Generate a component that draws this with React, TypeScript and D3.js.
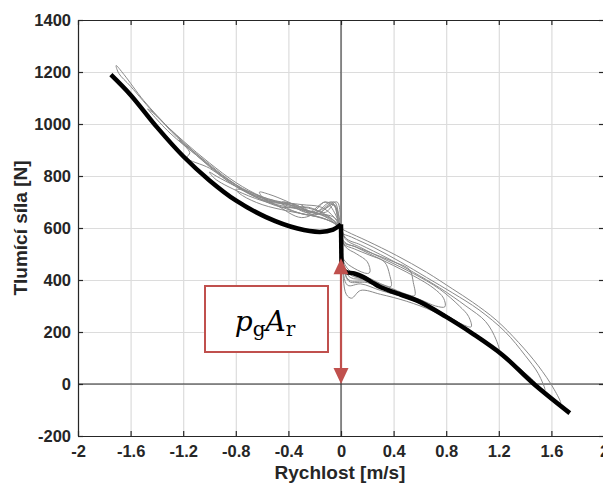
import * as d3 from 'd3';
import { useEffect, useRef } from 'react';

// axis ticks
const xTicks = [-2, -1.6, -1.2, -0.8, -0.4, 0, 0.4, 0.8, 1.2, 1.6, 2];
const xTickLabels = ['-2', '-1.6', '-1.2', '-0.8', '-0.4', '0', '0.4', '0.8', '1.2', '1.6', '2'];
const yTicks = [-200, 0, 200, 400, 600, 800, 1000, 1200, 1400];
const yTickLabels = ['-200', '0', '200', '400', '600', '800', '1000', '1200', '1400'];

// model (thick black), split at the jump at v = 0
const modelNeg: [number, number][] = [
  [-1.75, 1190], [-1.6, 1112], [-1.4, 988], [-1.2, 876], [-1.0, 783], [-0.8, 706],
  [-0.57, 642], [-0.33, 598], [-0.16, 585], [-0.06, 594], [0, 614],
];
const modelJump: [number, number][] = [[0, 614], [0.004, 445]];
const modelPos: [number, number][] = [
  [0.004, 445], [0.04, 431], [0.1, 425], [0.167, 412], [0.24, 390], [0.294, 374], [0.395, 354],
  [0.6, 316], [0.8, 258], [1.0, 194], [1.23, 111], [1.46, 3], [1.74, -112],
];

// measured loops (thin grey)
const loop1: [number, number][] = [
  [0, 605], [0.01, 480], [0.04, 345], [0.08, 330], [0.15, 360], [0.3, 345], [0.5, 318], [0.7, 280],
  [0.9, 225], [1.1, 160], [1.3, 80], [1.45, 10], [1.58, -45], [1.67, -75], [1.62, -20], [1.5, 70],
  [1.35, 160], [1.18, 246], [1.0, 315], [0.85, 365], [0.65, 430], [0.42, 495], [0.2, 550], [0.05, 585],
  [0, 600], [-0.05, 640], [-0.15, 680], [-0.3, 690], [-0.5, 705], [-0.7, 740], [-0.9, 800], [-1.1, 885],
  [-1.3, 980], [-1.5, 1090], [-1.65, 1190], [-1.71, 1225], [-1.69, 1195], [-1.6, 1145], [-1.4, 1030],
  [-1.2, 935], [-1.0, 850], [-0.8, 775], [-0.6, 720], [-0.4, 690], [-0.2, 660], [-0.05, 640], [0, 605],
];
const loop2: [number, number][] = [
  [0, 600], [0.01, 470], [0.05, 380], [0.15, 385], [0.3, 360], [0.5, 330], [0.7, 285], [0.9, 230],
  [1.1, 165], [1.3, 85], [1.45, 20], [1.55, -25], [1.5, 40], [1.4, 110], [1.25, 200], [1.05, 285],
  [0.85, 350], [0.65, 410], [0.45, 470], [0.25, 525], [0.08, 565], [0, 585], [-0.05, 690], [-0.12, 660],
  [-0.25, 680], [-0.45, 680], [-0.65, 720], [-0.85, 785], [-1.05, 865], [-1.25, 950], [-1.4, 1030],
  [-1.47, 1058], [-1.44, 1040], [-1.3, 965], [-1.1, 880], [-0.9, 800], [-0.7, 735], [-0.5, 700],
  [-0.3, 670], [-0.1, 645], [0, 600],
];
const loop3: [number, number][] = [
  [0, 600], [0.02, 460], [0.06, 395], [0.2, 390], [0.4, 350], [0.6, 318], [0.8, 265], [1.0, 200],
  [1.12, 155], [1.2, 130], [1.18, 170], [1.1, 240], [0.95, 300], [0.75, 370], [0.55, 430], [0.35, 485],
  [0.15, 535], [0.03, 565], [-0.03, 700], [-0.1, 680], [-0.2, 650], [-0.35, 690], [-0.55, 700],
  [-0.75, 745], [-0.95, 815], [-1.1, 880], [-1.23, 937], [-1.15, 890], [-1.17, 870], [-1.0, 830],
  [-0.8, 760], [-0.6, 715], [-0.4, 690], [-0.2, 670], [-0.08, 640], [0, 600],
];
const loop4: [number, number][] = [
  [0, 600], [0.02, 450], [0.06, 400], [0.2, 395], [0.4, 355], [0.6, 320], [0.8, 265], [0.92, 230],
  [0.99, 220], [0.97, 260], [0.9, 300], [0.75, 365], [0.55, 425], [0.35, 475], [0.15, 525], [0.03, 560],
  [-0.04, 680], [-0.12, 700], [-0.25, 660], [-0.4, 690], [-0.6, 710], [-0.8, 760], [-0.95, 800],
  [-1.0, 815], [-0.96, 790], [-0.8, 745], [-0.6, 705], [-0.4, 680], [-0.2, 660], [-0.06, 630], [0, 600],
];
const loop5: [number, number][] = [
  [0, 600], [0.02, 455], [0.07, 410], [0.2, 400], [0.4, 360], [0.6, 325], [0.72, 300], [0.79, 297],
  [0.78, 330], [0.7, 370], [0.5, 430], [0.3, 480], [0.12, 525], [0.02, 550], [-0.05, 700], [-0.15, 670],
  [-0.3, 640], [-0.5, 690], [-0.7, 740], [-0.8, 748], [-0.75, 725], [-0.6, 690], [-0.4, 665],
  [-0.2, 645], [-0.05, 620], [0, 600],
];
const loop6: [number, number][] = [
  [0, 590], [0.02, 460], [0.07, 420], [0.2, 400], [0.35, 375], [0.5, 345], [0.56, 340], [0.55, 390],
  [0.52, 440], [0.4, 470], [0.25, 500], [0.1, 530], [0.02, 545], [-0.06, 690], [-0.2, 650], [-0.4, 700],
  [-0.55, 730], [-0.62, 738], [-0.58, 710], [-0.45, 680], [-0.3, 655], [-0.15, 640], [-0.04, 615], [0, 590],
];
const loop7: [number, number][] = [
  [0, 590], [0.02, 470], [0.08, 430], [0.2, 410], [0.33, 380], [0.38, 375], [0.37, 420], [0.33, 470],
  [0.22, 495], [0.1, 520], [0.02, 540], [-0.07, 700], [-0.2, 660], [-0.35, 690], [-0.45, 700],
  [-0.42, 680], [-0.3, 655], [-0.15, 640], [-0.03, 610], [0, 590],
];
const loop8: [number, number][] = [
  [0, 585], [0.02, 480], [0.1, 445], [0.2, 425], [0.22, 430], [0.2, 470], [0.12, 500], [0.03, 530],
  [-0.04, 650], [-0.12, 700], [-0.22, 660], [-0.3, 690], [-0.26, 665], [-0.15, 650], [-0.05, 620], [0, 585],
];
const loops = [loop1, loop2, loop3, loop4, loop5, loop6, loop7, loop8];

// annotation: p_g*A_r arrow from 0 up to the jump
const arrowFrom = 0;
const arrowTo = 484;

export default function App() {
  const svgRef = useRef<SVGSVGElement>(null);

  useEffect(() => {
    if (svgRef.current) drawChart(svgRef.current);
  }, []);

  return (
    <div>
      <svg ref={svgRef} style={{ position: 'absolute', left: 0, top: 0 }}></svg>
    </div>
  );
}

function drawChart(el: SVGSVGElement) {
  const w = 603;
  const h = 487;
  const left = 78, right = 604, top = 20, bottom = 436;
  const ink = '#262626';
  const font = '"Liberation Sans", Arial, sans-serif';

  const svg = d3.select(el).attr('width', w).attr('height', h);
  svg.selectAll('*').remove();

  const x = d3.scaleLinear().domain([-2, 2]).range([left, right]);
  const y = d3.scaleLinear().domain([-200, 1400]).range([bottom, top]);

  svg.append('rect').attr('width', w).attr('height', h).attr('fill', '#fff');

  // grid
  svg.append('g')
    .attr('transform', `translate(0,${bottom})`)
    .call(d3.axisBottom(x).tickValues(xTicks).tickSize(-(bottom - top)).tickFormat(() => ''))
    .call(g => g.select('.domain').remove())
    .call(g => g.selectAll('line').attr('stroke', '#dcdcdc').attr('stroke-width', 1.2));
  svg.append('g')
    .attr('transform', `translate(${left},0)`)
    .call(d3.axisLeft(y).tickValues(yTicks).tickSize(-(right - left)).tickFormat(() => ''))
    .call(g => g.select('.domain').remove())
    .call(g => g.selectAll('line').attr('stroke', '#dcdcdc').attr('stroke-width', 1.2));

  // zero lines
  svg.append('line').attr('x1', x(0)).attr('x2', x(0)).attr('y1', top).attr('y2', bottom)
    .attr('stroke', ink).attr('stroke-width', 1);
  svg.append('line').attr('x1', left).attr('x2', right).attr('y1', y(0)).attr('y2', y(0))
    .attr('stroke', ink).attr('stroke-width', 1);

  svg.append('clipPath').attr('id', 'plotclip')
    .append('rect').attr('x', left).attr('y', top).attr('width', right - left).attr('height', bottom - top);
  const plot = svg.append('g').attr('clip-path', 'url(#plotclip)');

  const line = d3.line<[number, number]>().x(d => x(d[0])).y(d => y(d[1]));

  plot.selectAll('path.loop')
    .data(loops)
    .enter()
    .append('path')
    .attr('class', 'loop')
    .attr('d', d => line.curve(d3.curveCatmullRom.alpha(0.5))(d))
    .attr('fill', 'none')
    .attr('stroke', '#8a8a8a')
    .attr('stroke-width', 1);

  const thick = (d: [number, number][], c: d3.CurveFactory) =>
    plot.append('path')
      .datum(d)
      .attr('d', line.curve(c))
      .attr('fill', 'none')
      .attr('stroke', '#000')
      .attr('stroke-width', 4.5)
      .attr('stroke-linejoin', 'round');
  thick(modelNeg, d3.curveCatmullRom.alpha(0.5));
  thick(modelJump, d3.curveLinear);
  thick(modelPos, d3.curveCatmullRom.alpha(0.5));

  // axes
  const styleAxis = (g: d3.Selection<SVGGElement, unknown, null, undefined>) => {
    g.select('.domain').attr('stroke', ink).attr('stroke-width', 1.2);
    g.selectAll('.tick line').attr('stroke', ink).attr('stroke-width', 1.2);
    g.selectAll('text').attr('fill', ink).attr('font-family', font).attr('font-weight', 'bold').attr('font-size', 16.5);
  };

  svg.append('g')
    .attr('transform', `translate(0,${bottom})`)
    .call(d3.axisBottom(x).tickValues(xTicks).tickSizeInner(-5).tickSizeOuter(0).tickPadding(9)
      .tickFormat((_, i) => xTickLabels[i]))
    .call(styleAxis);
  svg.append('g')
    .attr('transform', `translate(0,${top})`)
    .call(d3.axisTop(x).tickValues(xTicks).tickSizeInner(-5).tickSizeOuter(0).tickFormat(() => ''))
    .call(styleAxis);
  svg.append('g')
    .attr('transform', `translate(${left},0)`)
    .call(d3.axisLeft(y).tickValues(yTicks).tickSizeInner(-5).tickSizeOuter(0).tickPadding(7)
      .tickFormat((_, i) => yTickLabels[i]))
    .call(styleAxis);
  svg.append('g')
    .attr('transform', `translate(${right},0)`)
    .call(d3.axisRight(y).tickValues(yTicks).tickSizeInner(-5).tickSizeOuter(0).tickFormat(() => ''))
    .call(styleAxis);

  // axis titles
  svg.append('text')
    .attr('x', 340).attr('y', 479)
    .attr('text-anchor', 'middle')
    .attr('font-family', font).attr('font-weight', 'bold').attr('font-size', 19).attr('fill', ink)
    .text('Rychlost [m/s]');
  svg.append('text')
    .attr('transform', `translate(27,${(top + bottom) / 2}) rotate(-90)`)
    .attr('text-anchor', 'middle')
    .attr('font-family', font).attr('font-weight', 'bold').attr('font-size', 19).attr('fill', ink)
    .text('Tlumící síla [N]');

  // annotation arrow
  const red = '#C0504D';
  const ax = x(0);
  const yTop = y(arrowTo);
  const yBot = y(arrowFrom);
  const headH = 16, headW = 7.5;
  svg.append('line')
    .attr('x1', ax).attr('x2', ax).attr('y1', yTop + headH - 2).attr('y2', yBot - headH + 2)
    .attr('stroke', red).attr('stroke-width', 2.2);
  svg.append('path')
    .attr('d', `M${ax},${yTop} L${ax - headW},${yTop + headH} L${ax + headW},${yTop + headH} Z`)
    .attr('fill', red);
  svg.append('path')
    .attr('d', `M${ax},${yBot} L${ax - headW},${yBot - headH} L${ax + headW},${yBot - headH} Z`)
    .attr('fill', red);

  // label box
  svg.append('rect')
    .attr('x', 205).attr('y', 286).attr('width', 123).attr('height', 66)
    .attr('fill', '#fff').attr('stroke', red).attr('stroke-width', 2);
  const t = svg.append('text')
    .attr('x', 265).attr('y', 331)
    .attr('text-anchor', 'middle')
    .attr('font-family', '"DejaVu Serif", "Liberation Serif", serif')
    .attr('font-size', 28).attr('fill', '#000');
  t.append('tspan').attr('font-style', 'italic').text('p');
  t.append('tspan').attr('font-size', 20).attr('dy', 5).text('g');
  t.append('tspan').attr('font-style', 'italic').attr('dy', -5).text('A');
  t.append('tspan').attr('font-size', 20).attr('dy', 5).text('r');
}
